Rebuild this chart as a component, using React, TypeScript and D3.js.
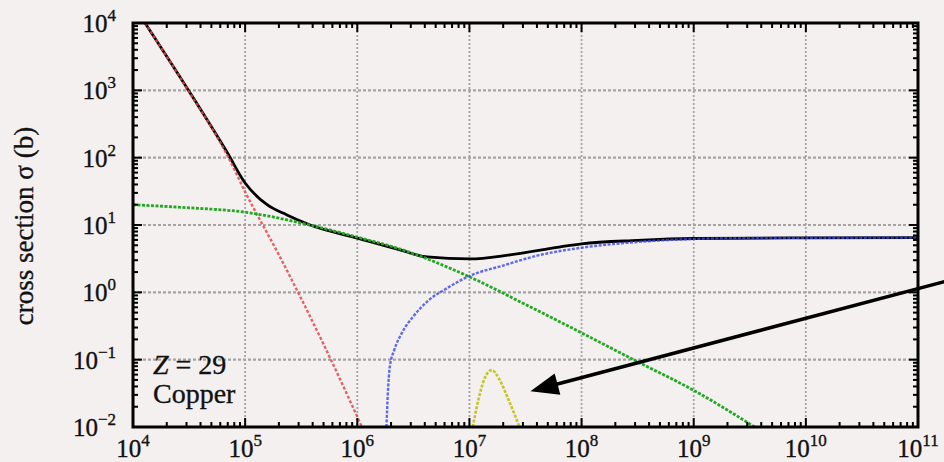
import React from "react";
import * as d3 from "d3";

// ---- data (energy in eV, cross section in barns) ----
const photoE = [1.28e4, 3.16e4, 6.9e4, 1e5, 2e5, 5e5, 1.1e6];
const photoS = [1e4, 950, 110, 31, 3.6, 0.17, 0.01];

const comptonE = [1e4, 3.16e4, 1e5, 3.16e5, 1e6, 2.4e6, 1e7, 3.16e7, 1e8, 3.16e8, 1e9, 3.5e9];
const comptonS = [20, 18, 15.5, 10.7, 6.6, 4.4, 1.7, 0.66, 0.25, 0.093, 0.035, 0.01];

const pairE = [1.82e6, 1.87e6, 1.95e6, 2.14e6, 2.5e6, 3.16e6, 4.4e6, 6.3e6, 1e7, 2e7, 4e7, 1e8, 3.16e8, 1e9, 3.16e9, 1e10, 1e11];
const pairS = [0.01, 0.03, 0.078, 0.14, 0.25, 0.44, 0.78, 1.15, 1.75, 2.5, 3.5, 4.6, 5.6, 6.2, 6.4, 6.45, 6.5];

const tripletE = [1.07e7, 1.2e7, 1.35e7, 1.58e7, 1.86e7, 2.24e7, 2.8e7];
const tripletS = [0.01, 0.025, 0.05, 0.07, 0.05, 0.025, 0.01];

const totalE = [1.28e4, 3.16e4, 6.9e4, 1e5, 1.57e5, 2.36e5, 3.8e5, 1e6, 2.4e6, 4.2e6, 1e7, 2.3e7, 6.3e7, 1e8, 3.16e8, 1e9, 1e10, 1e11];
const totalS = [1e4, 970, 120, 42, 20, 14.1, 10, 6.4, 4.27, 3.35, 3.13, 3.6, 4.7, 5.25, 5.9, 6.3, 6.45, 6.5];

const xTickExps = [4, 5, 6, 7, 8, 9, 10, 11];
const yTickExps = [-2, -1, 0, 1, 2, 3, 4];

const annotation = ["Z = 29", "Copper"];
const yLabel = "cross section \u03c3 (b)";
const arrowTail = [1.8e11, 1.47];
const arrowTip = [3.5e7, 0.034];

const W = 944, H = 462;
const L = 133, R = 918, T = 23, B = 427;
const FONT = "'Liberation Serif', 'Times New Roman', serif";

export default function App() {
  const x = d3.scaleLog().domain([1e4, 1e11]).range([L, R]);
  const y = d3.scaleLog().domain([1e-2, 1e4]).range([B, T]);

  const mk = (E: number[], S: number[]) =>
    d3.line<number>().x((_, i) => x(E[i])).y((_, i) => y(S[i])).curve(d3.curveMonotoneX)(E.map((_, i) => i)) || "";

  const minorX: number[] = [];
  for (let e = 4; e < 11; e++) for (let m = 2; m <= 9; m++) minorX.push(m * Math.pow(10, e));
  const minorY: number[] = [];
  for (let e = -2; e < 4; e++) for (let m = 2; m <= 9; m++) minorY.push(m * Math.pow(10, e));

  const tx = x(arrowTail[0]), ty = y(arrowTail[1]);
  const hx = x(arrowTip[0]), hy = y(arrowTip[1]);
  const len = Math.hypot(hx - tx, hy - ty);
  const ux = (hx - tx) / len, uy = (hy - ty) / len;
  const headL = 28, headW = 11;
  const bx = hx - ux * headL, by = hy - uy * headL;
  const p1 = [bx - uy * headW, by + ux * headW];
  const p2 = [bx + uy * headW, by - ux * headW];

  const gridColor = "#a4a4a4";

  return (
    <svg width={W} height={H} style={{ position: "absolute", left: 0, top: 0, background: "#f3f0ef" }}>
      <rect x={0} y={0} width={W} height={H} fill="#f3f0ef" />
      <defs>
        <clipPath id="plot">
          <rect x={L} y={T} width={R - L} height={B - T} />
        </clipPath>
      </defs>
      {/* grid */}
      {xTickExps.slice(1, -1).map((e) => (
        <line key={"gx" + e} x1={x(Math.pow(10, e))} x2={x(Math.pow(10, e))} y1={T} y2={B}
          stroke={gridColor} strokeWidth={1.8} strokeDasharray="2,2" />
      ))}
      {yTickExps.slice(1, -1).map((e) => (
        <line key={"gy" + e} x1={L} x2={R} y1={y(Math.pow(10, e))} y2={y(Math.pow(10, e))}
          stroke={gridColor} strokeWidth={2.2} strokeDasharray="3,2" />
      ))}
      {/* curves */}
      <g clipPath="url(#plot)" fill="none">
        <path d={mk(totalE, totalS)} stroke="#000" strokeWidth={2.8} />
        <path d={mk(photoE, photoS)} stroke="#e04848" strokeOpacity={0.85} strokeWidth={2.4} strokeDasharray="3,2" />
        <path d={mk(comptonE, comptonS)} stroke="#22a822" strokeWidth={2.8} strokeDasharray="3,1.5" />
        <path d={mk(pairE, pairS)} stroke="#3a48e8" strokeOpacity={0.8} strokeWidth={2.4} strokeDasharray="3,1.5" />
        <path d={mk(tripletE, tripletS)} stroke="#c4c424" strokeWidth={2.6} strokeDasharray="3,1.5" />
      </g>
      {/* ticks */}
      <g stroke="#000" strokeWidth={2}>
        {xTickExps.map((e) => {
          const px = x(Math.pow(10, e));
          return (
            <g key={"xt" + e}>
              <line x1={px} x2={px} y1={B} y2={B - 9} />
              <line x1={px} x2={px} y1={T} y2={T + 9} />
            </g>
          );
        })}
        {minorX.map((v, i) => {
          const px = x(v);
          return (
            <g key={"xm" + i}>
              <line x1={px} x2={px} y1={B} y2={B - 5} />
              <line x1={px} x2={px} y1={T} y2={T + 5} />
            </g>
          );
        })}
        {yTickExps.map((e) => {
          const py = y(Math.pow(10, e));
          return (
            <g key={"yt" + e}>
              <line x1={L} x2={L + 9} y1={py} y2={py} />
              <line x1={R} x2={R - 9} y1={py} y2={py} />
            </g>
          );
        })}
        {minorY.map((v, i) => {
          const py = y(v);
          return (
            <g key={"ym" + i}>
              <line x1={L} x2={L + 5} y1={py} y2={py} />
              <line x1={R} x2={R - 5} y1={py} y2={py} />
            </g>
          );
        })}
      </g>
      {/* frame */}
      <rect x={L} y={T} width={R - L} height={B - T} fill="none" stroke="#000" strokeWidth={3} />
      {/* tick labels */}
      <g fontFamily={FONT} fill="#111" stroke="#111" strokeWidth={0.35}>
        {xTickExps.map((e) => (
          <text key={"xl" + e} x={x(Math.pow(10, e))} y={457} textAnchor="middle" fontSize={25}>
            <tspan>10</tspan>
            <tspan dy={-11} fontSize={17}>{e < 0 ? "\u2212" + Math.abs(e) : String(e)}</tspan>
          </text>
        ))}
        {yTickExps.map((e) => (
          <text key={"yl" + e} x={116} y={y(Math.pow(10, e)) + 9} textAnchor="end" fontSize={25}>
            <tspan>10</tspan>
            <tspan dy={-11} fontSize={17}>{e < 0 ? "\u2212" + Math.abs(e) : String(e)}</tspan>
          </text>
        ))}
        <text transform="translate(33,226) rotate(-90)" textAnchor="middle" fontSize={27}>{yLabel}</text>
        <text x={153} y={374} fontSize={28}>
          <tspan fontStyle="italic">Z</tspan>
          <tspan>{annotation[0].slice(1)}</tspan>
        </text>
        <text x={153} y={403} fontSize={28}>{annotation[1]}</text>
      </g>
      {/* arrow */}
      <line x1={tx} y1={ty} x2={bx + ux * 2} y2={by + uy * 2} stroke="#000" strokeWidth={3.5} />
      <polygon points={`${hx},${hy} ${p1[0]},${p1[1]} ${p2[0]},${p2[1]}`} fill="#000" />
    </svg>
  );
}
